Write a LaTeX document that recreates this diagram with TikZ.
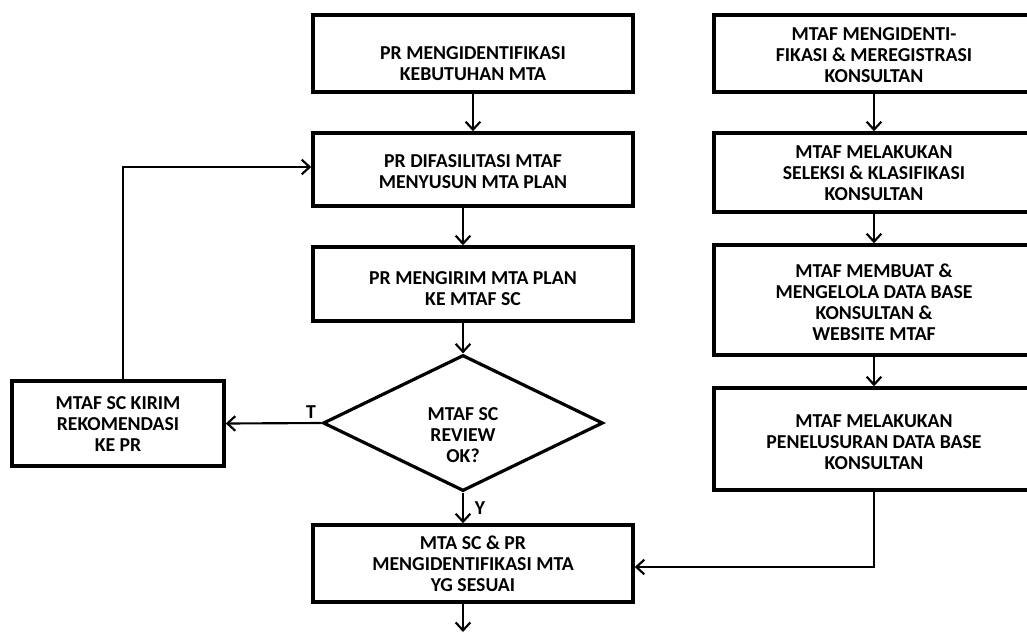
\documentclass[tikz,border=0pt]{standalone}
\usepackage{fontspec}
\setmainfont{Carlito}
\usetikzlibrary{arrows.meta,shapes.geometric}
\begin{document}
\begin{tikzpicture}[x=0.75pt,y=-0.75pt,
  box/.style={draw,line width=2.6pt,minimum width=240pt,inner sep=0pt},
  lbl/.style={inner sep=0pt,align=center,font=\fontsize{14.8}{15.75}\selectfont\bfseries},
  arr/.style={line width=1.6pt,-{Straight Barb[length=6pt,width=11pt]}},
  ln/.style={line width=1.6pt}]
\useasboundingbox (0,0) rectangle (1027,632);
\clip (0,0) rectangle (1027,632);
% left column
\node[box,minimum height=57.75pt] (b1) at (473,53.5) {};
\node[lbl] (t1) at (473,63.5) {PR MENGIDENTIFIKASI\\KEBUTUHAN MTA};
\node[box,minimum height=54.75pt] (b2) at (473,169.5) {};
\node[lbl] (t2) at (473,172) {PR DIFASILITASI MTAF\\MENYUSUN MTA PLAN};
\node[box,minimum height=55.5pt] (b3) at (473,284) {};
\node[lbl] (t3) at (473,289) {PR MENGIRIM MTA PLAN\\KE MTAF SC};
\node[diamond,draw,line width=2.4pt,minimum width=210pt,minimum height=102pt,inner sep=0pt] (d) at (463,423) {};
\node[lbl] (td) at (463,435) {MTAF SC\\REVIEW\\OK?};
\node[box,minimum width=159pt,minimum height=63.75pt] (lk) at (118,423.5) {};
\node[lbl] (tl) at (118,424) {MTAF SC KIRIM\\REKOMENDASI\\KE PR};
\node[box,minimum height=57.75pt] (b5) at (473,563.5) {};
\node[lbl] (t5) at (473,564) {MTA SC \& PR\\MENGIDENTIFIKASI MTA\\YG SESUAI};
% right column
\node[box,minimum height=57.75pt] (r1) at (874,53.5) {};
\node[lbl] (tr1) at (874,55) {MTAF MENGIDENTI-\\FIKASI \& MEREGISTRASI\\KONSULTAN};
\node[box,minimum height=59.25pt] (r2) at (874,172.5) {};
\node[lbl] (tr2) at (874,173) {MTAF MELAKUKAN\\SELEKSI \& KLASIFIKASI\\KONSULTAN};
\node[box,minimum height=82.5pt] (r3) at (874,300) {};
\node[lbl] (tr3) at (874,302) {MTAF MEMBUAT \&\\MENGELOLA DATA BASE\\KONSULTAN \&\\WEBSITE MTAF};
\node[box,minimum height=76.5pt] (r4) at (874,439) {};
\node[lbl] (tr4) at (874,442) {MTAF MELAKUKAN\\PENELUSURAN DATA BASE\\KONSULTAN};
% labels
\node[lbl] (lt) at (311,412) {T};
\node[lbl] (ly) at (480,508) {Y};
\coordinate (end) at (463,632);
% connectors
\draw[arr] (b1.south) -- (b2.north);
\draw[arr] (b2.south -| d.north) -- (b3.north -| d.north);
\draw[arr] (b3.south -| d.north) -- (d.north);
\draw[arr] (d.south) -- (b5.north -| d.south);
\draw[arr] (b5.south -| d.south) -- (end);
\draw[arr] (d.west) -- (lk.east);
\draw[arr] (lk.north -| 123,0) |- (b2.west |- 0,167) ;
\draw[arr] (r1.south) -- (r2.north);
\draw[arr] (r2.south) -- (r3.north);
\draw[arr] (r3.south) -- (r4.north);
\draw[arr] (r4.south) |- (b5.east |- 0,567);
\end{tikzpicture}
\end{document}
